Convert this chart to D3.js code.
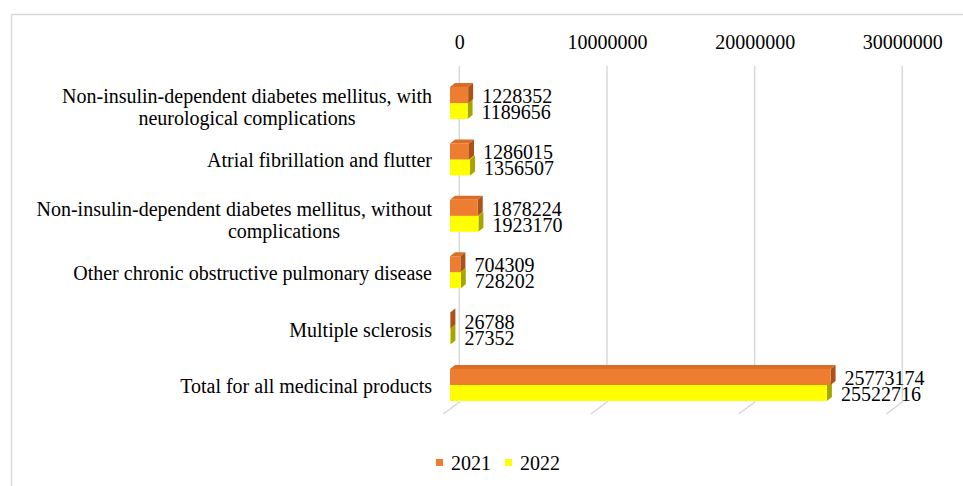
<!DOCTYPE html>
<html>
<head>
<meta charset="utf-8">
<script src="https://cdn.jsdelivr.net/npm/d3@7"></script>
<style>
  body { margin: 0; background: #fff; }
  svg text { font-family: "Liberation Serif", "Times New Roman", serif; fill: #000; }
</style>
</head>
<body>
<svg id="chart" width="963" height="486"></svg>
<script>
var categories = [
    ["Non-insulin-dependent diabetes mellitus, with", "neurological complications"],
    ["Atrial fibrillation and flutter"],
    ["Non-insulin-dependent diabetes mellitus, without", "complications"],
    ["Other chronic obstructive pulmonary disease"],
    ["Multiple sclerosis"],
    ["Total for all medicinal products"]
];
var years = ["2021", "2022"];
var values2021 = [1228352, 1286015, 1878224, 704309, 26788, 25773174];
var values2022 = [1189656, 1356507, 1923170, 728202, 27352, 25522716];
var tickValues = [0, 10000000, 20000000, 30000000];

var width = 963, height = 486;
var svg = d3.select("#chart");
var fontSize = "20px";

// bar colours: front, top, side
var colors = {
    "2021": { front: "#ED7D31", top: "#DA6E28", side: "#A9521B" },
    "2022": { front: "#FFFF00", top: "#E8E800", side: "#A5A500" }
};

// chart frame
svg.append("rect")
    .attr("x", 11.5).attr("y", 14.5)
    .attr("width", 1000).attr("height", 500)
    .attr("fill", "#fff")
    .attr("stroke", "#d9d9d9")
    .attr("stroke-width", 1.5);

var depthX = 5, depthY = -4;       // bar depth offset
var floorX = -16, floorY = 12;      // floor gridline offset

// front plane (bars) and back wall scales
var x = d3.scaleLinear().domain([0, 30000000]).range([450, 893]);
var xBack = d3.scaleLinear().domain([0, 30000000]).range([459.3, 902.3]);

var keys = categories.map((d, i) => "c" + i);
var y0 = d3.scaleBand()
    .domain(keys)
    .range([74.8, 413.2])
    .paddingInner(0.433)
    .paddingOuter(0.2165);
var y1 = d3.scaleBand().domain(years).range([0, y0.bandwidth()]);

// gridlines on back wall and floor
var grid = svg.append("g");
tickValues.forEach(t => {
    grid.append("path")
        .attr("d", `M${xBack(t)},66 L${xBack(t)},402 L${xBack(t) + floorX},${402 + floorY}`)
        .attr("fill", "none")
        .attr("stroke", "#d9d9d9")
        .attr("stroke-width", 1.5);
});

// top axis labels
var xAxis = d3.axisTop(xBack).tickValues(tickValues).tickSize(0).tickFormat(d3.format("d"));
var axisG = svg.append("g")
    .attr("transform", "translate(0,52)")
    .call(xAxis);
axisG.select(".domain").remove();
axisG.selectAll("text")
    .style("font-size", fontSize)
    .style("font-family", "Liberation Serif, Times New Roman, serif")
    .attr("fill", "#000");

var rows = keys.map((k, i) => ({ key: k, label: categories[i], v: { "2021": values2021[i], "2022": values2022[i] } }));

// draw 2022 first so the 2021 bar above covers its top face
var barsG = svg.append("g");
rows.forEach(r => {
    ["2022", "2021"].forEach(yr => {
        var x0 = x(0), x1 = x(r.v[yr]);
        var yt = y0(r.key) + y1(yr), yb = yt + y1.bandwidth();
        var c = colors[yr];
        barsG.append("path")
            .attr("d", `M${x0},${yt} L${x0 + depthX},${yt + depthY} L${x1 + depthX},${yt + depthY} L${x1},${yt} Z`)
            .attr("fill", c.top);
        barsG.append("path")
            .attr("d", `M${x1},${yt} L${x1 + depthX},${yt + depthY} L${x1 + depthX},${yb + depthY} L${x1},${yb} Z`)
            .attr("fill", c.side);
        barsG.append("rect")
            .attr("x", x0).attr("y", yt)
            .attr("width", x1 - x0).attr("height", yb - yt)
            .attr("fill", c.front);
    });
});

// value labels (tightly stacked, as in the original)
rows.forEach(r => {
    years.forEach(yr => {
        svg.append("text")
            .attr("x", x(r.v[yr]) + depthX + 9)
            .attr("y", y0(r.key) + y1(yr) + y1.bandwidth() / 2 + 1)
            .attr("dominant-baseline", "central")
            .style("font-size", fontSize)
            .text(r.v[yr]);
    });
});

// category labels: the widest line is right-aligned at the axis, the other
// wrapped lines are centred in the label box (box capped when the line overflows)
var labelRight = 432;
var wrapWidth = 376;
rows.forEach(r => {
    var n = r.label.length;
    var cy = y0(r.key) + y0.bandwidth() / 2 + (n > 1 ? 4 : 1);
    var g = svg.append("g");
    var texts = r.label.map((line, j) => g.append("text")
        .attr("y", cy + (j - (n - 1) / 2) * 22)
        .attr("dominant-baseline", "central")
        .style("font-size", fontSize)
        .text(line));
    var widths = texts.map(t => t.node().getComputedTextLength());
    var maxW = d3.max(widths);
    var boxW = maxW > wrapWidth ? 296 : maxW;
    texts.forEach((t, j) => {
        var widest = widths[j] === maxW;
        t.attr("x", widest ? labelRight : labelRight - boxW / 2)
         .attr("text-anchor", widest ? "end" : "middle");
    });
});

// legend
var legend = svg.append("g");
var legendX = [436, 505];
years.forEach((yr, i) => {
    legend.append("rect")
        .attr("x", legendX[i]).attr("y", 459)
        .attr("width", 7).attr("height", 7)
        .attr("fill", colors[yr].front);
    legend.append("text")
        .attr("x", legendX[i] + 15)
        .attr("y", 463)
        .attr("dominant-baseline", "central")
        .style("font-size", fontSize)
        .text(yr);
});
</script>
</body>
</html>
